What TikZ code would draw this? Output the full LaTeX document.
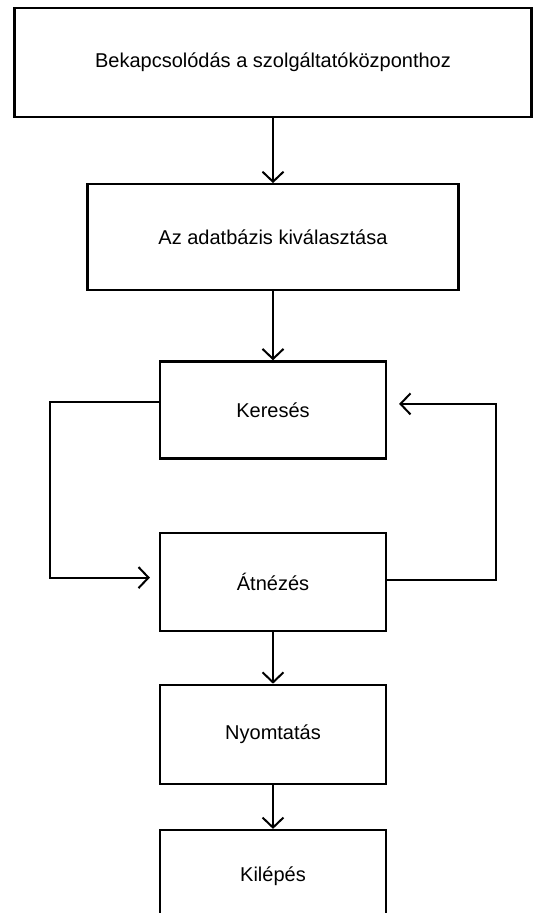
\documentclass[tikz,border=0pt]{standalone}
\usepackage{fontspec}
\setmainfont{Liberation Sans}
\usetikzlibrary{arrows.meta, positioning}
\tikzstyle{block} = [rectangle, minimum width=226pt, minimum height=98pt, text centered, draw=black, line width=2.2pt, inner sep=0pt]
\tikzstyle{arrow} = [line width=2pt,->,>={Straight Barb[length=10pt, width=21pt]}]
\begin{document}
\begin{tikzpicture}[x=1pt, y=1pt, node distance=65pt]
\fontsize{20}{24}\selectfont
\useasboundingbox (0,0) rectangle (535,-913);
% Define nodes
\node (bekapcsolodas) [block, minimum width=517pt, minimum height=109pt] at (273,-62.5) {Bekapcsolódás a szolgáltatóközponthoz};
\node (adatbazis) [block, minimum width=371pt, minimum height=106pt, below=65pt of bekapcsolodas] {Az adatbázis kiválasztása};
\node (kereses) [block, minimum height=97pt, below=69pt of adatbazis] {Keresés};
\node (atnezes) [block, below=72pt of kereses] {Átnézés};
\node (nyomtatas) [block, minimum height=99pt, below=52pt of atnezes] {Nyomtatás};
\node (kilepes) [block, minimum height=92pt, below=44pt of nyomtatas] {Kilépés};
% Connect nodes with arrows
\draw [arrow] (bekapcsolodas) -- (adatbazis);
\draw [arrow] (adatbazis) -- (kereses);
\draw [arrow] (atnezes) -- (nyomtatas);
\draw [arrow] (nyomtatas) -- (kilepes);
% Loops between Keresés and Átnézés
\draw [arrow, shorten >=9pt] ([yshift=8pt]kereses.west) -- ++(-109,0) |- ([yshift=4pt]atnezes.west);
\draw [arrow, shorten >=12pt] ([yshift=2pt]atnezes.east) -- ++(109,0) |- ([yshift=6pt]kereses.east);
\end{tikzpicture}
\end{document}
